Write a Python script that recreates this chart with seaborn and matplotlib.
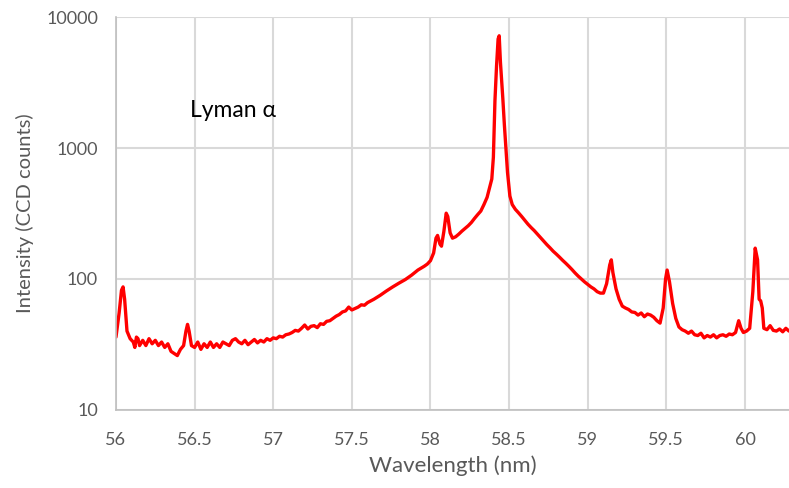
import matplotlib
matplotlib.use("Agg")
import matplotlib.pyplot as plt
import seaborn as sns
import pandas as pd

# Spectrum (wavelength in nm, intensity in CCD counts)
wavelength = [
    56.00, 56.02, 56.035, 56.045, 56.055, 56.07, 56.09, 56.11, 56.12, 56.13,
    56.14, 56.15, 56.17, 56.19, 56.21, 56.23, 56.25, 56.27, 56.29, 56.31,
    56.33, 56.35, 56.37, 56.39, 56.41, 56.43, 56.445, 56.455, 56.465, 56.48,
    56.50, 56.52, 56.54, 56.56, 56.58, 56.60, 56.62, 56.64, 56.66, 56.68,
    56.70, 56.72, 56.74, 56.76, 56.78, 56.80, 56.82, 56.84, 56.86, 56.88,
    56.90, 56.92, 56.94, 56.96, 56.98, 57.00, 57.02, 57.04, 57.06, 57.08,
    57.10, 57.12, 57.14, 57.16, 57.18, 57.20, 57.22, 57.24, 57.26, 57.28,
    57.30, 57.32, 57.34, 57.36, 57.38, 57.40, 57.42, 57.44, 57.46, 57.48,
    57.50, 57.52, 57.54, 57.56, 57.58, 57.60, 57.62, 57.64, 57.66, 57.68,
    57.70, 57.72, 57.74, 57.76, 57.78, 57.80, 57.82, 57.84, 57.86, 57.88,
    57.90, 57.92, 57.94, 57.96, 57.98, 58.00, 58.02, 58.035, 58.045, 58.06,
    58.07, 58.085, 58.10, 58.11, 58.125, 58.14, 58.16, 58.18, 58.20, 58.22,
    58.24, 58.26, 58.28, 58.30, 58.32, 58.34, 58.36, 58.38, 58.39, 58.40,
    58.41, 58.42, 58.43, 58.437, 58.445, 58.46, 58.47, 58.48, 58.49, 58.505,
    58.52, 58.54, 58.56, 58.58, 58.60, 58.62, 58.64, 58.66, 58.68, 58.70,
    58.72, 58.74, 58.76, 58.78, 58.80, 58.82, 58.84, 58.86, 58.88, 58.90,
    58.92, 58.94, 58.96, 58.98, 59.00, 59.02, 59.04, 59.06, 59.08, 59.10,
    59.12, 59.14, 59.15, 59.16, 59.18, 59.20, 59.22, 59.24, 59.26, 59.28,
    59.30, 59.32, 59.34, 59.36, 59.38, 59.40, 59.42, 59.44, 59.46, 59.48,
    59.495, 59.505, 59.52, 59.54, 59.56, 59.58, 59.60, 59.62, 59.64, 59.66,
    59.68, 59.70, 59.72, 59.74, 59.76, 59.78, 59.80, 59.82, 59.84, 59.86,
    59.88, 59.90, 59.92, 59.94, 59.96, 59.975, 59.99, 60.01, 60.03, 60.05,
    60.065, 60.08, 60.09, 60.10, 60.11, 60.12, 60.14, 60.16, 60.18, 60.20,
    60.22, 60.24, 60.26, 60.28, 60.30,
]
intensity = [
    36, 55, 82, 87, 70, 40, 35, 33, 30, 36,
    35, 31, 34, 31, 35, 32, 34, 31, 33, 30,
    32, 28, 27, 26, 29, 31, 40, 45, 40, 31,
    30, 33, 29, 32, 30, 33, 30, 32, 30, 33,
    32, 31, 34, 35, 33, 32, 34, 31.5, 33, 34.5,
    32.5, 34, 33, 35, 34, 35.5, 35, 36.5, 36, 37.5,
    38, 39, 40.5, 40, 42, 44.5, 41.5, 43.5, 44, 42.5,
    45.5, 45, 47.5, 48, 50, 52, 53.5, 56, 57, 61,
    58, 59.5, 61, 63.5, 63, 66, 68, 70, 72.5, 75,
    78, 81, 84, 87, 90, 93, 96, 99, 103, 107,
    112, 117, 121, 125, 130, 138, 158, 205, 215, 185,
    178, 230, 318, 300, 225, 205, 210, 220, 232, 243,
    255, 270, 290, 310, 330, 370, 420, 520, 580, 850,
    2300, 4200, 6800, 7200, 4500, 2400, 1500, 1000, 650, 430,
    370, 340, 320, 300, 280, 262, 247, 234, 220, 207,
    195, 183, 173, 163, 155, 147, 139, 132, 125, 118,
    111, 105, 100, 95, 91, 87, 84, 80, 78, 78,
    92, 128, 140, 112, 84, 70, 62, 60, 58.5, 56,
    55.5, 53, 55, 51.5, 54, 53, 51, 48, 46, 60,
    100, 117, 95, 65, 50, 43, 41, 40, 38.5, 40,
    37.5, 37, 38.5, 35.5, 37, 36, 37.5, 35.5, 37, 37.5,
    36.5, 38, 37.5, 39, 48, 42, 39, 40, 42, 80,
    172, 140, 70, 68, 60, 42, 41, 44, 40.5, 40,
    41.5, 39.5, 42, 40, 40,
]
y_ticks = [10, 100, 1000, 10000]
x_ticks = [56, 56.5, 57, 57.5, 58, 58.5, 59, 59.5, 60]

df = pd.DataFrame({"wavelength": wavelength, "intensity": intensity})

sns.set_style("whitegrid")
plt.rcParams["font.family"] = ["Lato", "DejaVu Sans"]

fig = plt.figure(figsize=(7.89, 4.88), dpi=100)
ax = fig.add_axes([0.147, 0.16, 0.853, 0.805])

sns.lineplot(data=df, x="wavelength", y="intensity", color="#ff0000",
             linewidth=2.4, estimator=None, ax=ax)

ax.set_yscale("log")
ax.set_ylim(10, 10000)
ax.set_xlim(56, 60.28)
ax.set_yticks(y_ticks)
ax.set_yticklabels([str(t) for t in y_ticks])
ax.set_xticks(x_ticks)
ax.set_xticklabels([f"{t:g}" for t in x_ticks])
ax.minorticks_off()

ax.grid(True, color="#d9d9d9", linewidth=1.5)
ax.tick_params(axis="both", length=0, labelsize=13, colors="#595959")
ax.tick_params(axis="y", pad=13)
ax.tick_params(axis="x", pad=16)

for side in ["top", "right"]:
    ax.spines[side].set_visible(False)
for side in ["left", "bottom"]:
    ax.spines[side].set_color("#bfbfbf")
    ax.spines[side].set_linewidth(1.2)

ax.set_xlabel("Wavelength (nm)", fontsize=16, color="#595959", labelpad=5)
ax.set_ylabel("Intensity (CCD counts)", fontsize=14.5, color="#595959", labelpad=9)

ax.text(56.47, 1950, "Lyman α", fontsize=16.5, color="black", va="center")

fig.savefig("out.png", dpi=100)
